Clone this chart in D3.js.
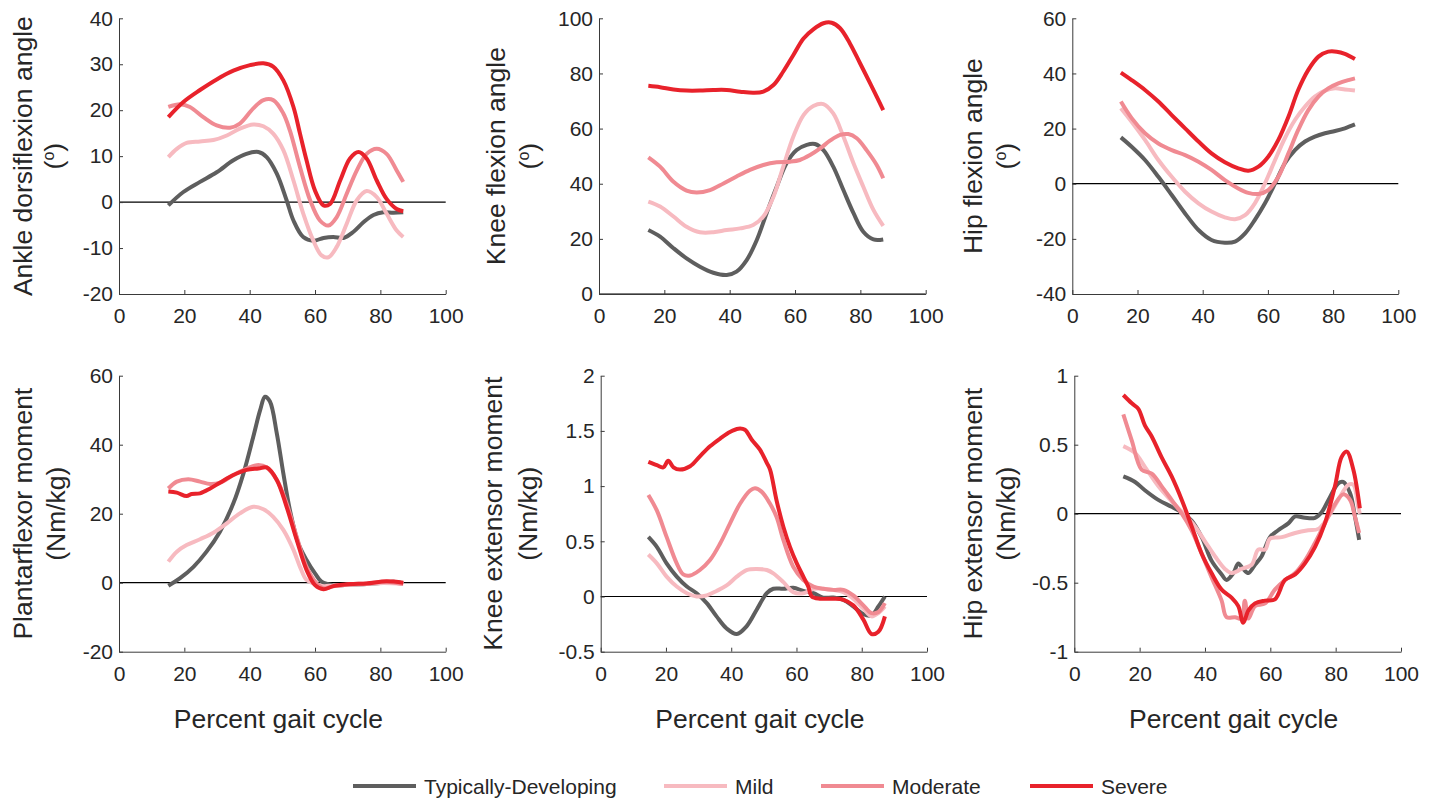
<!DOCTYPE html>
<html>
<head>
<meta charset="utf-8">
<script src="https://cdn.jsdelivr.net/npm/d3@7"></script>
<style>
  body { margin: 0; background: #fff; }
  svg text { font-family: "Liberation Sans", Arial, sans-serif; fill: #262626; }
</style>
</head>
<body>
<svg id="chart" width="1434" height="799"></svg>
<script>
// groups + colours
const groups = ['Typically-Developing', 'Mild', 'Moderate', 'Severe'];
const groupColors = ['#5e5e5e', '#f7bac0', '#f08a92', '#e8222b'];

// ankle dorsiflexion angle (deg), [percent gait, value]
const ankleAngleTD = [[15.1,-0.7],[19.7,2.2],[24.8,4.4],[29.9,6.5],[35,9.1],[39,10.5],[42.7,10.9],[45.2,9.8],[48.3,6.2],[51.3,0.4],[53.4,-4],[56.4,-7.6],[59.5,-8.4],[62.6,-7.8],[65.6,-7.6],[68.7,-7.8],[71.7,-6.5],[74.8,-4.4],[77.9,-2.8],[80.9,-2.2],[84,-2.3],[87,-2.2]];
const ankleAngleMild = [[15.1,9.8],[17.7,11.6],[20.7,12.9],[24.8,13.2],[28.9,13.5],[33,14.5],[37,16],[41.1,16.9],[44.2,16.5],[47.2,14.9],[50.3,11.3],[53.4,4.7],[56.4,-2.5],[59.5,-8.4],[62,-11.6],[64.1,-12],[66.6,-9.8],[69.7,-4.7],[72.8,0.4],[75.8,2.4],[78.9,1.1],[81.9,-2.5],[85,-6.2],[87,-7.6]];
const ankleAngleModerate = [[15.1,20.7],[18.7,21.3],[21.7,20.7],[25.8,18.5],[29.9,16.7],[34,16.2],[37,17.1],[41.1,20.4],[44.2,22.2],[47.2,22.2],[50.3,19.3],[52.3,15.6],[55.4,7.6],[58.5,0.4],[61.5,-4],[64.1,-5.1],[66.6,-3.3],[69.7,1.8],[72.8,6.9],[75.8,10.5],[78.9,11.6],[81.9,10.5],[85,6.9],[87,4.4]];
const ankleAngleSevere = [[15.1,18.5],[19.7,21.8],[24.8,24.4],[29.9,26.7],[35,28.6],[40.1,29.8],[44.2,30.2],[47.2,29.5],[50.3,26.5],[53.4,20.7],[55.4,14.9],[57.4,9.1],[60,2.5],[62.6,-0.7],[64.6,-0.4],[67.7,4.7],[70.7,9.5],[73.3,10.9],[75.8,9.5],[78.9,4.7],[81.9,0.7],[85,-1.5],[87,-2]];

// knee flexion angle (deg)
const kneeAngleTD = [[15.1,23.2],[18.7,20.8],[22.8,16.6],[26.8,12.9],[30.9,9.9],[35,7.7],[39.1,6.9],[42.1,8.1],[45.2,12.3],[48.3,19.6],[51.3,29.3],[54.4,38.9],[57.4,47.4],[60.5,52.2],[63.6,54.1],[66.1,54.4],[68.7,52.2],[71.7,46.2],[74.8,37.7],[77.9,29.3],[80.9,22.6],[84,19.8],[87,19.8]];
const kneeAngleMild = [[15.1,33.5],[18.7,31.7],[22.8,28.1],[26.8,24.4],[30.9,22.4],[35,22.4],[39.1,23.2],[43.2,23.8],[47.2,25],[50.3,28.1],[53.4,35.3],[56.4,46.2],[59.5,57.1],[62.6,64.9],[65.6,68.2],[68.7,68.9],[71.7,65.5],[74.8,57.1],[77.9,47.4],[80.9,38.9],[84,30.5],[87,24.7]];
const kneeAngleModerate = [[15.1,49.6],[18.7,46.2],[22.8,40.7],[26.8,37.5],[29.9,36.8],[34,37.7],[38.1,40.1],[42.1,42.6],[46.2,45],[50.3,46.8],[54.4,47.8],[58.5,48],[61.5,48.6],[64.6,50.4],[67.7,52.8],[70.7,55.6],[73.8,57.7],[76.3,58],[78.9,56.5],[81.9,52.2],[85,46.8],[87,42]];
const kneeAngleSevere = [[15.1,75.5],[18.7,75],[22.8,74.2],[26.8,73.8],[30.9,73.8],[35,74],[39.1,74],[43.2,73.4],[47.2,73],[50.3,73.4],[53.4,75.8],[56.4,80.7],[59.5,86.7],[62.6,92.7],[65.6,96],[68.7,98.2],[71.2,98.4],[73.8,96.4],[76.8,90.9],[79.9,83.7],[83,76.4],[85,71.6],[87,66.7]];

// hip flexion angle (deg)
const hipAngleTD = [[14.9,16.8],[18.2,13.4],[22.3,8.6],[26.4,2.5],[30.5,-4.1],[34.6,-10.8],[38.7,-16.8],[42.7,-20.4],[46.8,-21.4],[49.9,-21],[53,-18],[56,-13.1],[59.1,-7.1],[62.2,0.1],[65.2,7.4],[68.3,12.2],[71.4,15.3],[74.4,17.1],[77.5,18.3],[80.6,19.1],[83.6,20.1],[86.7,21.5]];
const hipAngleMild = [[14.9,27.4],[18.2,22.5],[22.3,15.9],[26.4,8.6],[30.5,2.5],[34.6,-2.9],[38.7,-7.1],[42.7,-10.1],[46.8,-12.2],[49.9,-12.9],[53,-11.4],[56,-7.1],[59.1,0.1],[62.2,8.6],[65.2,16.5],[68.3,23.1],[71.4,28],[74.4,31.6],[77.5,33.8],[80.6,34.6],[83.6,34.2],[86.7,33.8]];
const hipAngleModerate = [[14.9,29.8],[18.2,23.8],[22.3,18.3],[26.4,14.6],[30.5,12.2],[34.6,10.4],[38.7,8],[42.7,5],[46.8,1.3],[50.9,-1.7],[54,-3.3],[57.1,-3.7],[60.1,-2.3],[63.2,2.5],[66.3,11],[69.3,19.5],[72.4,26.7],[75.5,31.6],[78.5,34.6],[81.6,36.4],[84.7,37.6],[86.7,38.2]];
const hipAngleSevere = [[14.9,40.3],[18.2,37.6],[22.3,34],[26.4,29.8],[30.5,24.9],[34.6,20.1],[38.7,15.3],[42.7,11],[46.8,7.8],[50.9,5.6],[54,4.7],[57.1,6.2],[60.1,9.8],[63.2,15.9],[66.3,24.3],[69.3,34],[72.4,41.3],[75.5,46.1],[78.5,47.9],[81.1,47.9],[83.6,47.1],[86.7,45.2]];

// plantarflexor moment
const ankleMomentTD = [[15.1,-0.9],[18.7,1.3],[22.8,4.6],[26.8,9],[30.9,14.8],[35,23],[38.1,31.7],[41.1,42.3],[43.2,50],[44.7,53.9],[46.2,52.5],[48.3,43.3],[50.3,31.7],[52.3,21.1],[54.9,11.4],[57.4,6.6],[60,2.7],[62,0.3],[65.6,-0.7],[70.7,-0.6],[75.8,-0.4],[80.9,0],[84,0.3],[87,-0.2]];
const ankleMomentMild = [[15.1,6.1],[17.7,9],[20.7,10.9],[24.8,12.6],[28.9,14.5],[33,17.2],[37,20.1],[41.1,22],[44.2,21.3],[47.2,19.1],[50.3,15.3],[53.4,9.5],[55.4,4.6],[57.4,0.8],[60,-0.4],[62.6,-1],[65.6,-0.8],[70.7,-0.6],[75.8,-0.4],[81,-0.1],[87,-0.4]];
const ankleMomentModerate = [[15.1,27.3],[17.7,29.3],[21.2,30],[24.8,29.3],[27.9,28.6],[30.9,29],[35,31.2],[39.1,33.1],[42.7,34.1],[45.2,33.4],[48.3,29.8],[51.3,23],[54.4,13.3],[57.4,4.6],[60.5,-0.2],[62.6,-1.6],[65.6,-1],[70.7,-0.5],[75.8,-0.2],[81.9,0.3],[87,-0.4]];
const ankleMomentSevere = [[15.1,26.4],[17.7,26.1],[20.7,25.1],[22.2,25.7],[24.8,25.9],[27.9,27.3],[30.9,29],[35,31.2],[39.1,32.7],[42.7,33.1],[45.2,33.4],[48.3,29.8],[51.3,22],[54.4,12.4],[57.4,3.7],[60,-0.7],[62.6,-1.9],[65.6,-1],[70.7,-0.4],[75.8,-0.2],[81.9,0.4],[87,0]];

// knee extensor moment
const kneeMomentTD = [[14.6,0.54],[17.2,0.45],[20.2,0.3],[23.3,0.18],[26.4,0.09],[29.4,0.03],[32.5,-0.06],[35.5,-0.18],[38.6,-0.29],[41.7,-0.34],[44.7,-0.27],[47.8,-0.12],[50.9,0.03],[52.9,0.07],[56,0.07],[59,0.08],[62.1,0.05],[65.2,0.03],[68.2,-0.01],[71.3,-0.01],[74.4,-0.03],[77.4,-0.09],[80.5,-0.16],[83,-0.17],[85.1,-0.09],[87.1,0]];
const kneeMomentMild = [[14.6,0.38],[17.2,0.3],[20.2,0.18],[23.3,0.09],[26.4,0.03],[29.4,0],[32.5,0.01],[35.5,0.05],[38.6,0.1],[41.7,0.18],[44.7,0.24],[47.8,0.25],[50.9,0.24],[52.9,0.21],[56,0.13],[59,0.04],[62.1,0.03],[65.2,0.07],[68.2,0.07],[71.3,0.06],[74.4,0.04],[77.4,-0.02],[80.5,-0.11],[83,-0.18],[85.1,-0.15],[87.1,-0.09]];
const kneeMomentModerate = [[14.6,0.92],[17.2,0.78],[20.2,0.54],[23.3,0.3],[25.3,0.2],[27.4,0.19],[30.4,0.24],[33.5,0.33],[36.6,0.48],[39.6,0.66],[42.7,0.84],[45.8,0.96],[47.3,0.98],[49.3,0.95],[51.9,0.84],[53.9,0.72],[56,0.51],[59,0.27],[62.1,0.15],[65.2,0.09],[68.2,0.07],[71.3,0.06],[74.4,0.06],[77.4,0.01],[80.5,-0.08],[83,-0.15],[85.1,-0.14],[87.1,-0.06]];
const kneeMomentSevere = [[14.6,1.22],[17.2,1.19],[19.2,1.17],[20.7,1.23],[22.3,1.17],[24.3,1.15],[27.4,1.18],[30.4,1.27],[33.5,1.36],[36.6,1.43],[39.6,1.49],[42.2,1.52],[44.2,1.51],[46.3,1.42],[48.8,1.33],[50.9,1.21],[51.9,1.15],[53.9,0.87],[56,0.63],[58,0.45],[60.1,0.3],[62.1,0.18],[63.6,0.09],[64.7,0],[67.2,-0.02],[71.3,-0.02],[74.4,-0.03],[77.4,-0.08],[80.5,-0.21],[83,-0.34],[85.1,-0.32],[87.1,-0.18]];

// hip extensor moment
const hipMomentTD = [[15,0.27],[18.6,0.23],[21.6,0.17],[25.7,0.1],[29.8,0.05],[32.9,0.01],[35.9,-0.05],[39,-0.17],[42,-0.34],[45.1,-0.44],[46.6,-0.48],[48.7,-0.43],[50.2,-0.36],[51.7,-0.4],[53.3,-0.43],[55.3,-0.37],[57.3,-0.31],[59.9,-0.17],[62.4,-0.12],[65.5,-0.07],[67.6,-0.02],[70.6,-0.03],[73.7,-0.03],[75.7,0.01],[77.8,0.1],[80.8,0.22],[82.3,0.23],[84.4,0.15],[85.9,-0.02],[87.2,-0.19]];
const hipMomentMild = [[15,0.49],[18.6,0.44],[21.6,0.34],[25.7,0.2],[29.8,0.09],[33.9,-0.01],[36.9,-0.09],[40,-0.2],[43.1,-0.31],[46.1,-0.4],[48.2,-0.43],[51.2,-0.4],[54.3,-0.37],[56.3,-0.26],[58.4,-0.26],[59.9,-0.18],[63.5,-0.17],[67.6,-0.14],[71.6,-0.12],[74.7,-0.11],[77.8,-0.02],[80.8,0.1],[83.9,0.21],[85.4,0.21],[86.9,0.05],[87.4,0]];
const hipMomentModerate = [[15,0.72],[17.6,0.53],[20.6,0.32],[23.7,0.29],[26.7,0.2],[29.8,0.1],[32.9,0],[35.9,-0.12],[39,-0.29],[42,-0.46],[45.1,-0.63],[46.6,-0.75],[49.2,-0.75],[51.2,-0.76],[52.2,-0.63],[53.3,-0.76],[55.3,-0.67],[58.4,-0.65],[61.4,-0.55],[64.5,-0.48],[67.6,-0.43],[70.6,-0.34],[73.7,-0.21],[76.7,-0.07],[79.8,0.07],[82.3,0.14],[84.4,0.1],[85.9,-0.02],[87.2,-0.14]];
const hipMomentSevere = [[15,0.86],[17.6,0.8],[19.6,0.76],[21.6,0.64],[23.7,0.56],[26.7,0.41],[29.8,0.27],[32.9,0.1],[35.9,-0.09],[39,-0.29],[42,-0.43],[45.1,-0.55],[48.2,-0.61],[50.2,-0.67],[51.7,-0.79],[53.3,-0.7],[55.3,-0.65],[58.4,-0.63],[61.4,-0.62],[64.5,-0.48],[67.6,-0.44],[70.6,-0.36],[73.7,-0.24],[76.7,-0.07],[79.8,0.2],[81.8,0.41],[83.4,0.45],[85.4,0.32],[87.4,0.04]];

// tick labels
const xTicks = [0, 20, 40, 60, 80, 100];
const ankleAngleTicks = [-20, -10, 0, 10, 20, 30, 40];
const kneeAngleTicks = [0, 20, 40, 60, 80, 100];
const hipAngleTicks = [-40, -20, 0, 20, 40, 60];
const ankleMomentTicks = [-20, 0, 20, 40, 60];
const kneeMomentTicks = [-0.5, 0, 0.5, 1, 1.5, 2];
const hipMomentTicks = [-1, -0.5, 0, 0.5, 1];

const panels = [
  { left: 119, right: 445.7, top: 18.3, bottom: 294, ticks: ankleAngleTicks,
    label: ['Ankle dorsiflexion angle', 'deg'], labelX: [32, 62.5],
    series: [ankleAngleTD, ankleAngleMild, ankleAngleModerate, ankleAngleSevere] },
  { left: 599, right: 925.7, top: 18.3, bottom: 294, ticks: kneeAngleTicks,
    label: ['Knee flexion angle', 'deg'], labelX: [505, 538],
    series: [kneeAngleTD, kneeAngleMild, kneeAngleModerate, kneeAngleSevere] },
  { left: 1072.3, right: 1398.3, top: 18.3, bottom: 294, ticks: hipAngleTicks,
    label: ['Hip flexion angle', 'deg'], labelX: [982, 1015],
    series: [hipAngleTD, hipAngleMild, hipAngleModerate, hipAngleSevere] },
  { left: 119, right: 445.7, top: 375.7, bottom: 651.7, ticks: ankleMomentTicks,
    label: ['Plantarflexor moment', '(Nm/kg)'], labelX: [32, 64.5], xTitle: true,
    series: [ankleMomentTD, ankleMomentMild, ankleMomentModerate, ankleMomentSevere] },
  { left: 600.7, right: 927, top: 375.7, bottom: 651.7, ticks: kneeMomentTicks,
    label: ['Knee extensor moment', '(Nm/kg)'], labelX: [502, 536.5], xTitle: true,
    series: [kneeMomentTD, kneeMomentMild, kneeMomentModerate, kneeMomentSevere] },
  { left: 1074.3, right: 1401, top: 375.7, bottom: 651.7, ticks: hipMomentTicks,
    label: ['Hip extensor moment', '(Nm/kg)'], labelX: [982, 1014.5], xTitle: true,
    series: [hipMomentTD, hipMomentMild, hipMomentModerate, hipMomentSevere] }
];

const svg = d3.select('#chart');
const AXIS_COLOR = '#3a3a3a';

panels.forEach(p => {
  const x = d3.scaleLinear().domain([0, 100]).range([p.left, p.right]);
  const y = d3.scaleLinear().domain(d3.extent(p.ticks)).range([p.bottom, p.top]);
  const g = svg.append('g');

  const line = d3.line()
    .x(d => x(d[0]))
    .y(d => y(d[1]))
    .curve(d3.curveCatmullRom.alpha(0.5));

  // zero reference
  g.append('line')
    .attr('x1', x(0)).attr('x2', x(100))
    .attr('y1', y(0)).attr('y2', y(0))
    .attr('stroke', '#000').attr('stroke-width', 1.2);

  p.series.forEach((s, i) => {
    g.append('path')
      .datum(s)
      .attr('d', line)
      .attr('fill', 'none')
      .attr('stroke', groupColors[i])
      .attr('stroke-width', 4)
      .attr('stroke-linejoin', 'round')
      .attr('stroke-linecap', 'butt');
  });

  const fmt = d => String(d);

  const yAxis = g.append('g')
    .attr('transform', `translate(${p.left},0)`)
    .call(d3.axisLeft(y).tickValues(p.ticks).tickFormat(fmt)
      .tickSizeInner(-4).tickSizeOuter(0).tickPadding(6));

  const xAxis = g.append('g')
    .attr('transform', `translate(0,${p.bottom})`)
    .call(d3.axisBottom(x).tickValues(xTicks).tickFormat(fmt)
      .tickSizeInner(-4).tickSizeOuter(0).tickPadding(14));

  [yAxis, xAxis].forEach(a => {
    a.select('.domain').attr('stroke', AXIS_COLOR);
    a.selectAll('.tick line').attr('stroke', AXIS_COLOR);
    a.selectAll('.tick text')
      .attr('fill', '#262626')
      .style('font-size', '21px')
      .style('font-family', '"Liberation Sans", Arial, sans-serif');
  });

  // y label, two lines
  const cy = (p.top + p.bottom) / 2;
  g.append('text')
    .attr('transform', `translate(${p.labelX[0]},${cy}) rotate(-90)`)
    .attr('text-anchor', 'middle')
    .style('font-size', '26.5px')
    .text(p.label[0]);

  const l2 = g.append('text')
    .attr('transform', `translate(${p.labelX[1]},${cy}) rotate(-90)`)
    .attr('text-anchor', 'middle')
    .style('font-size', '26.5px');
  if (p.label[1] === 'deg') {
    l2.append('tspan').text('(');
    l2.append('tspan').attr('dy', -9).style('font-size', '16px').text('o');
    l2.append('tspan').attr('dy', 9).text(')');
  } else {
    l2.text(p.label[1]);
  }

  if (p.xTitle) {
    g.append('text')
      .attr('x', (p.left + p.right) / 2 - 4)
      .attr('y', 728)
      .attr('text-anchor', 'middle')
      .style('font-size', '26.5px')
      .text('Percent gait cycle');
  }
});

// legend
const legendX = [353, 664, 821, 1030];
const legend = svg.append('g').attr('transform', 'translate(0,786)');
groups.forEach((name, i) => {
  legend.append('line')
    .attr('x1', legendX[i]).attr('x2', legendX[i] + 63)
    .attr('y1', 0).attr('y2', 0)
    .attr('stroke', groupColors[i])
    .attr('stroke-width', 4);
  legend.append('text')
    .attr('x', legendX[i] + 71)
    .attr('y', 8)
    .style('font-size', '21px')
    .text(name);
});
</script>
</body>
</html>
